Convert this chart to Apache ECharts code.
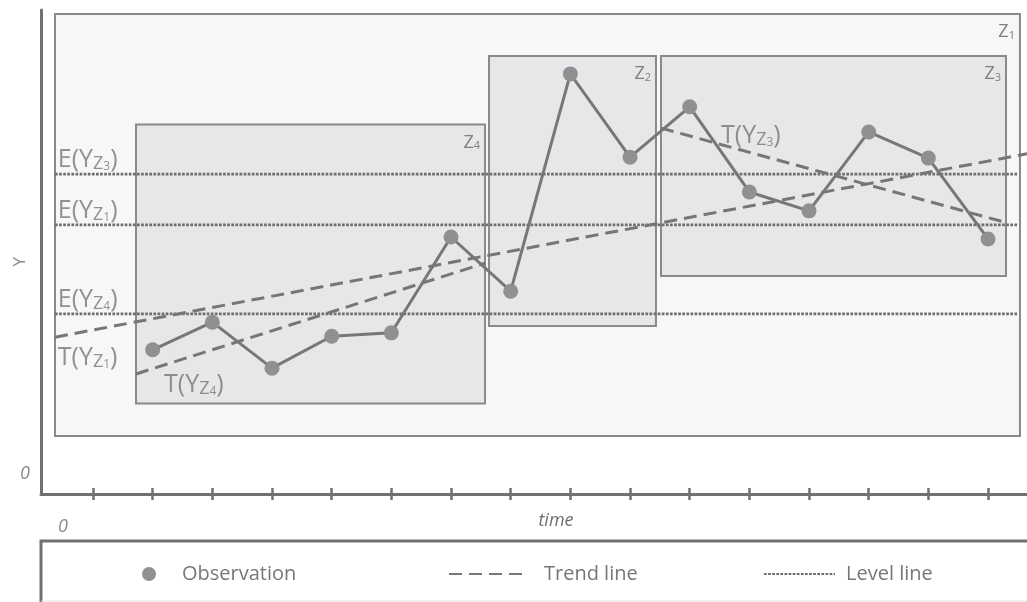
<!DOCTYPE html>
<html>
<head>
<meta charset="utf-8">
<script src="https://cdn.jsdelivr.net/npm/echarts@6/dist/echarts.min.js"></script>
<style>html,body{margin:0;padding:0;background:#fff}#c{width:1027px;height:602px}</style>
</head>
<body>
<div id="c"></div>
<script>
// ---- data (time index on x, Y value on y; 0..100 arbitrary units) ----
const tickTimes = [1,2,3,4,5,6,7,8,9,10,11,12,13,14,15,16];
const obsTime  = [2,3,4,5,6,7,8,9,10,11,12,13,14,15,16];
const obsValue = [29.8,35.5,26.0,32.6,33.3,53.1,41.9,86.8,69.6,80.0,62.4,58.5,74.8,69.4,52.7];

const zoneDigit = ['1','4','2','3'];
const zoneStart = [0.363,1.721,7.637,10.519];
const zoneEnd   = [16.535,7.570,10.435,16.301];
const zoneLow   = [11.98,18.70,34.71,45.04];
const zoneHigh  = [99.17,76.34,90.50,90.50];

const levelDigit = ['3','1','4'];
const levelValue = [66.1,55.6,37.2];
const levelFrom = 0.363, levelTo = 16.50;

const trendDigit = ['1','4','3'];
const trendStartTime  = [0.363,1.721,10.519];
const trendEndTime    = [16.653,7.570,16.267];
const trendStartValue = [32.4,24.8,75.6];
const trendEndValue   = [70.3,47.7,56.2];

const annotationPrefix = ['E','E','E','T','T','T'];
const annotationDigit  = ['3','1','4','1','4','3'];
const annotationTime   = [0.41,0.41,0.41,0.41,2.19,11.525];
const annotationValue  = [69.4,58.9,40.5,28.5,22.9,74.4];

const xMin = 0.1285, xMax = 16.653, yMin = 0, yMax = 100;

// ---- styles ----
const FONT = '"Open Sans", "Noto Sans", sans-serif';
const TXT = '#777777';
const AXIS = '#707070';
const LINE = '#777777';

const chart = echarts.init(document.getElementById('c'), null, {renderer: 'canvas'});

const zoneData = zoneDigit.map((d, i) => [
  { coord: [zoneStart[i], zoneHigh[i]], name: d,
    itemStyle: { color: i === 0 ? '#f7f7f7' : '#e6e7e9' } },
  { coord: [zoneEnd[i], zoneLow[i]] }
]);

const series = [];
series.push({
  type: 'line', data: [], silent: true,
  markArea: {
    silent: true,
    itemStyle: { borderColor: '#8a8a8a', borderWidth: 2 },
    label: {
      show: true, position: 'insideTopRight', distance: 6,
      formatter: p => '{z|Z}{s|' + p.name + '}',
      rich: {
        z: { fontFamily: FONT, fontSize: 18, color: '#808080', lineHeight: 22, verticalAlign: 'bottom' },
        s: { fontFamily: FONT, fontSize: 11, color: '#808080', lineHeight: 17.4, verticalAlign: 'bottom' }
      }
    },
    data: zoneData
  }
});

levelValue.forEach((v, i) => {
  series.push({
    type: 'line', name: 'Level line', silent: true, symbol: 'none', z: 3,
    lineStyle: { color: '#6e6e6e', width: 2.7, type: [2.7, 1.4] },
    itemStyle: { color: '#6e6e6e' },
    data: [[levelFrom, v], [levelTo, v]]
  });
});

trendDigit.forEach((d, i) => {
  series.push({
    type: 'line', name: 'Trend line', silent: true, symbol: 'none', z: 4,
    lineStyle: { color: '#767676', width: 3, type: [13, 7] },
    itemStyle: { color: '#767676' },
    data: [[trendStartTime[i], trendStartValue[i]], [trendEndTime[i], trendEndValue[i]]]
  });
});

series.push({
  type: 'line', name: 'Observation', silent: true, z: 5,
  symbol: 'circle', symbolSize: 15, showSymbol: true,
  lineStyle: { color: LINE, width: 3 },
  itemStyle: { color: '#909093' },
  data: obsTime.map((t, i) => [t, obsValue[i]])
});

series.push({
  type: 'scatter', silent: true, z: 6, symbolSize: 0,
  data: annotationPrefix.map((p, i) => ({ value: [annotationTime[i], annotationValue[i]], name: p + '|' + annotationDigit[i] })),
  label: {
    show: true, position: 'inside', align: 'left', verticalAlign: 'middle',
    formatter: p => {
      const [pre, dg] = p.name.split('|');
      return '{b|' + pre + '(Y}{z|Z}{s|' + dg + '}{b|)}';
    },
    rich: {
      b: { fontFamily: FONT, fontSize: 25, color: TXT, lineHeight: 29, verticalAlign: 'bottom' },
      z: { fontFamily: FONT, fontSize: 18, color: TXT, lineHeight: 24.6, verticalAlign: 'bottom' },
      s: { fontFamily: FONT, fontSize: 12, color: TXT, lineHeight: 20.6, verticalAlign: 'bottom' }
    }
  }
});

const legendText = { fontFamily: FONT, fontSize: 20, color: TXT };

chart.setOption({
  animation: false,
  backgroundColor: '#ffffff',
  grid: { left: 41, right: 0, top: 10, bottom: 108 },
  xAxis: [
    { type: 'value', min: xMin, max: xMax, position: 'bottom',
      axisLine: { show: true, onZero: false, lineStyle: { color: AXIS, width: 3 } },
      axisTick: { show: true, inside: true, length: 6, customValues: tickTimes, lineStyle: { color: AXIS, width: 2.5 } },
      axisLabel: { show: false }, splitLine: { show: false } },
    { type: 'value', min: xMin, max: xMax, position: 'bottom', offset: 0,
      axisLine: { show: false },
      axisTick: { show: true, inside: false, length: 6, customValues: tickTimes, lineStyle: { color: AXIS, width: 2.5 } },
      axisLabel: { show: false }, splitLine: { show: false } }
  ],
  yAxis: {
    type: 'value', min: yMin, max: yMax,
    axisLine: { show: true, onZero: false, lineStyle: { color: AXIS, width: 3 } },
    axisTick: { show: false }, axisLabel: { show: false }, splitLine: { show: false }
  },
  legend: [
    { data: [{ name: 'Observation', icon: 'circle' }], left: 142, top: 564, padding: 0,
      itemWidth: 56, itemHeight: 14, selectedMode: false, textStyle: legendText },
    { data: ['Trend line'], left: 448, top: 564, padding: 0,
      itemWidth: 73, itemHeight: 14, selectedMode: false, itemStyle: { opacity: 0 },
      textStyle: Object.assign({ padding: [0, 0, 0, 17] }, legendText) },
    { data: ['Level line'], left: 763, top: 564, padding: 0,
      itemWidth: 71, itemHeight: 14, selectedMode: false, itemStyle: { opacity: 0 },
      textStyle: Object.assign({ padding: [0, 0, 0, 6] }, legendText) }
  ],
  graphic: [
    { type: 'text', left: 12, top: 257, rotation: Math.PI / 2, silent: true,
      style: { text: 'Y', font: '17px ' + FONT, fill: '#8a8a8a' } },
    { type: 'text', x: 25, y: 474, silent: true,
      style: { text: '0', font: 'italic 18px ' + FONT, fill: '#8a8a8a', align: 'center', verticalAlign: 'middle' } },
    { type: 'text', x: 63, y: 527, silent: true,
      style: { text: '0', font: 'italic 18px ' + FONT, fill: '#8a8a8a', align: 'center', verticalAlign: 'middle' } },
    { type: 'text', x: 556, y: 521, silent: true,
      style: { text: 'time', font: 'italic 18px ' + FONT, fill: '#6e6e6e', align: 'center', verticalAlign: 'middle' } },
    { type: 'polyline', silent: true, shape: { points: [[41, 602], [41, 541], [1027, 541]] },
      style: { stroke: AXIS, lineWidth: 3, fill: null } },
    { type: 'line', silent: true, shape: { x1: 41, y1: 601, x2: 1027, y2: 601 },
      style: { stroke: '#e0e0e0', lineWidth: 1 } }
  ],
  series: series
});
</script>
</body>
</html>
